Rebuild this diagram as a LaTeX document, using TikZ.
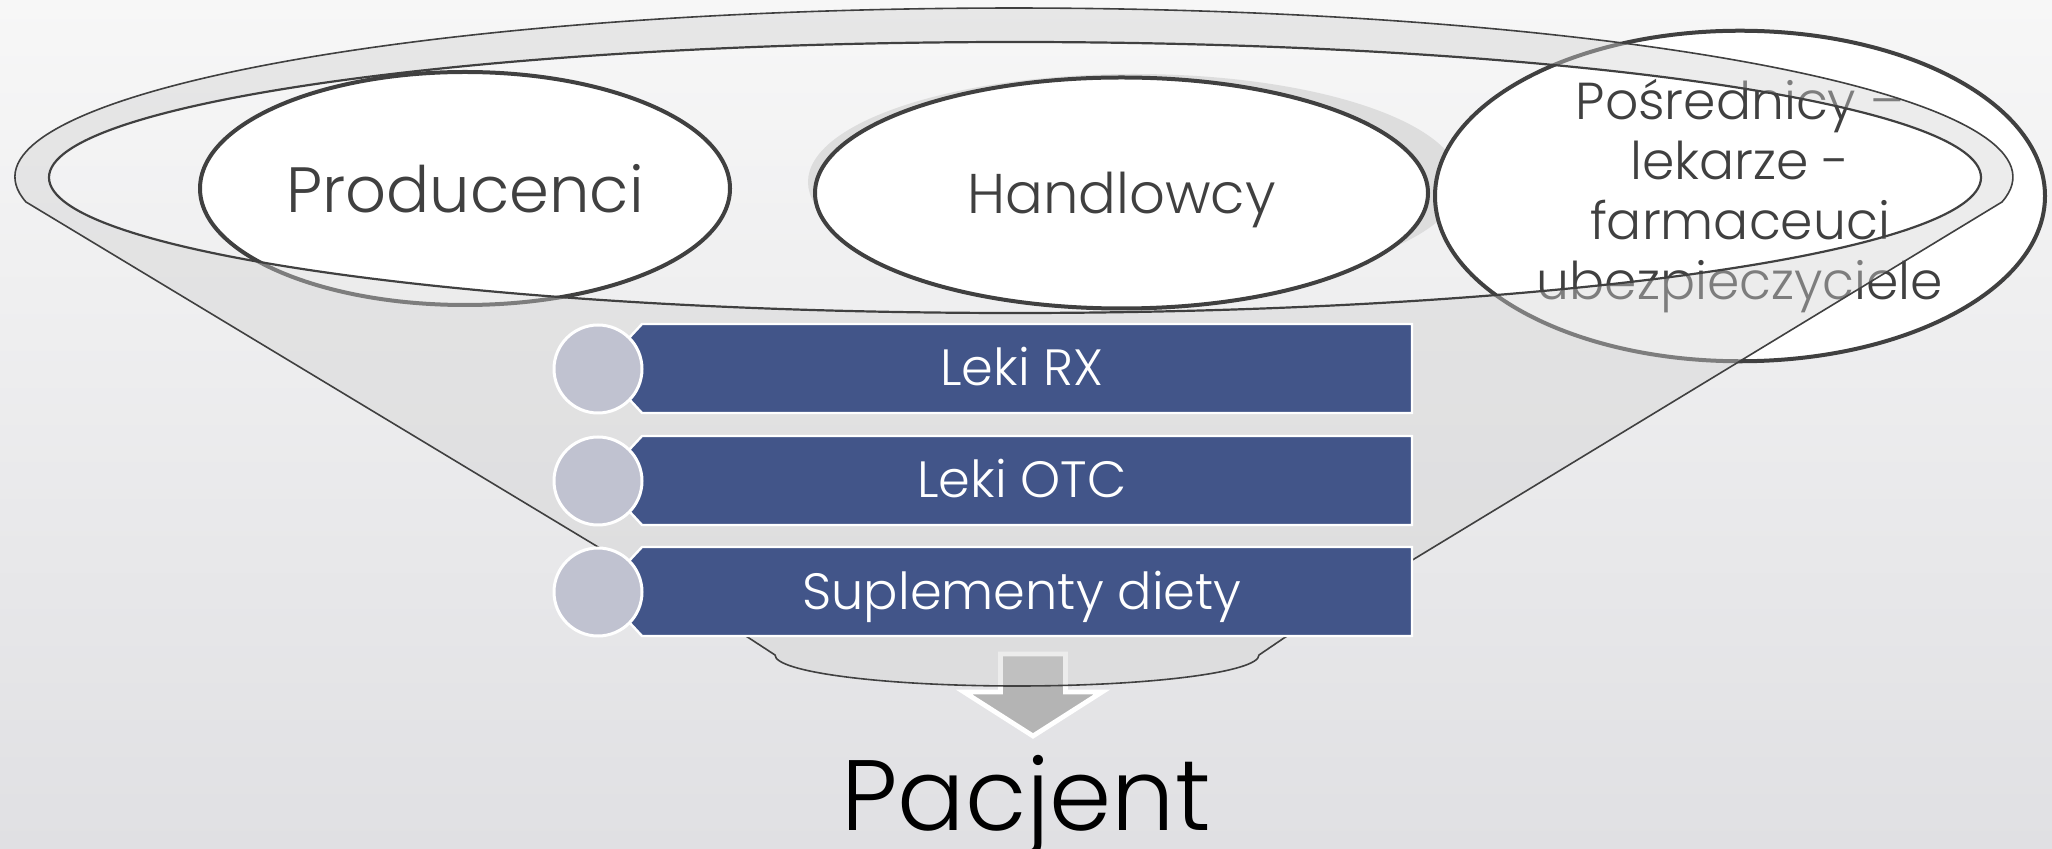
\documentclass[tikz,border=0pt]{standalone}
\usepackage{fontspec}
\setmainfont{Poppins Light}
\usetikzlibrary{shapes.geometric}
\definecolor{bgtop}{RGB}{247,247,247}
\definecolor{bgbot}{RGB}{224,224,227}
\definecolor{edgec}{RGB}{64,64,64}
\definecolor{funnelc}{RGB}{210,210,210}
\definecolor{rectc}{RGB}{66,85,137}
\definecolor{circc}{RGB}{192,194,208}
\definecolor{arrowc}{RGB}{180,180,180}
\definecolor{shadowc}{RGB}{221,221,221}
\tikzset{
  oval/.style={ellipse, draw=edgec, line width=2pt, fill=white, text=edgec, inner sep=0pt, align=center},
  funnelfill/.style={fill=funnelc, fill opacity=0.42, even odd rule},
  funneledge/.style={draw=edgec, line width=0.8pt},
  barshape/.style={fill=rectc, draw=white, line width=1.2pt},
  bartext/.style={text=white, font=\fontsize{25.5}{30}\selectfont, inner sep=0pt, anchor=base},
  bead/.style={circle, fill=circc, draw=white, line width=1.5pt, minimum size=44pt, inner sep=0pt},
  downarrow/.style={fill=arrowc, draw=white, line width=2.4pt, line join=miter},
}
\begin{document}
\begin{tikzpicture}[x=0.5pt,y=-0.5pt]
\fill[top color=bgtop,bottom color=bgbot] (0,0) rectangle (2052,849);
\useasboundingbox (0,0) rectangle (2052,849);

% shadow behind Handlowcy
\fill[shadowc] (1134,182) ellipse[x radius=326, y radius=108];

% top ellipses
\node[oval, minimum width=265pt, minimum height=116.5pt, font=\fontsize{32}{38}\selectfont] (prod) at (465,188.5) {Producenci};
\node[oval, minimum width=306.5pt, minimum height=115.5pt, font=\fontsize{28}{34}\selectfont, text depth=0pt] (hand) at (1121.5,193) {Handlowcy};
\node[oval, minimum width=305pt, minimum height=126pt, font=\fontsize{26}{30}\selectfont] (posr) at (1740,196) {Pośrednicy –\\lekarze -\\farmaceuci\\ubezpieczyciele};

% arrow to patient
\path[downarrow] (1000.5,654) -- (1065.5,654) -- (1065.5,692) -- (1102,692) -- (1033,736) -- (964,692) -- (1000.5,692) -- cycle;

% funnel
\path[funnelfill] (26,202) arc[start angle=171.5, end angle=368.5, x radius=999, y radius=169]
  -- (1284,638) -- (1259,655) arc[start angle=0, end angle=180, x radius=242, y radius=31]
  -- (749,638) -- cycle
  (1015,177.5) ellipse[x radius=966, y radius=135.5];
\draw[funneledge] (26,202) arc[start angle=171.5, end angle=368.5, x radius=999, y radius=169]
  -- (1284,638) -- (1259,655) arc[start angle=0, end angle=180, x radius=242, y radius=31]
  -- (749,638) -- cycle;
\draw[funneledge, line width=1.1pt] (1015,177.5) ellipse[x radius=966, y radius=135.5];

% bars
\path[barshape] (642,324) -- (1412,324) -- (1412,413) -- (642,413) -- (629,399) -- (629,338) -- cycle;
\path[barshape] (642,436) -- (1412,436) -- (1412,525) -- (642,525) -- (629,511) -- (629,450) -- cycle;
\path[barshape] (642,547) -- (1412,547) -- (1412,636) -- (642,636) -- (629,622) -- (629,561) -- cycle;
\node[bartext] (rx) at (1022,386) {Leki RX};
\node[bartext] (otc) at (1022,498) {Leki OTC};
\node[bartext] (supl) at (1022,610) {Suplementy diety};
\node[bead] (b1) at (598,369) {};
\node[bead] (b2) at (598,481) {};
\node[bead] (b3) at (598,592) {};

% patient
\node[font=\fontsize{50}{60}\selectfont, text=black, inner sep=0pt, anchor=base] (pac) at (1026,830) {Pacjent};
\end{tikzpicture}
\end{document}
